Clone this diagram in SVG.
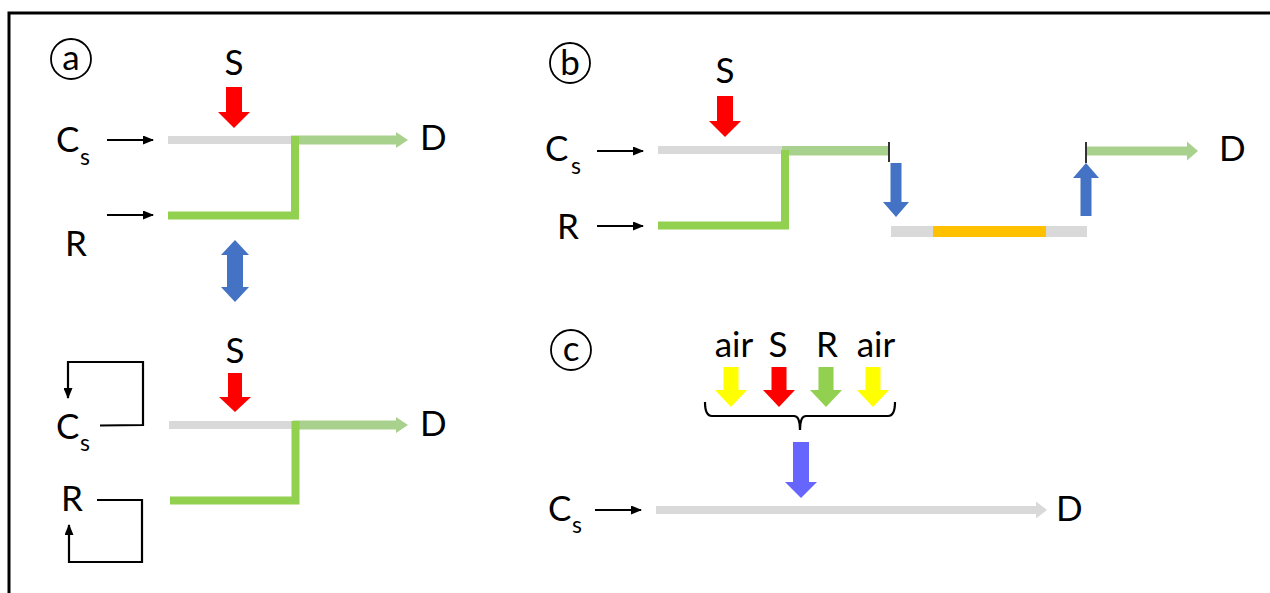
<svg xmlns="http://www.w3.org/2000/svg" width="1270" height="593" viewBox="0 0 1270 593">
<style>
.t{font-family:Lato,"Open Sans","Liberation Sans",sans-serif;font-size:35px;fill:#000}
.sub{font-size:23px}
.lbl{font-size:35px}
.circ{fill:none;stroke:#000;stroke-width:1.8}
.thin{fill:none;stroke:#000;stroke-width:2;marker-end:url(#ah)}
.loop{fill:none;stroke:#000;stroke-width:2.2;marker-end:url(#ah)}
.tick{stroke:#333;stroke-width:2}
.gray{fill:#D9D9D9}
.lg{fill:#A9D18E}
.dg{fill:none;stroke:#92D050;stroke-width:8}
.red{fill:#FF0000}
.blue{fill:#4472C4}
.yel{fill:#FFFF00}
.grn{fill:#92D050}
.pur{fill:#6666FF}
.org{fill:#FFC000}
</style>
<defs>
<marker id="ah" markerUnits="userSpaceOnUse" markerWidth="11" markerHeight="9" refX="10" refY="4.5" orient="auto">
<path d="M0,0 L11,4.5 L0,9 Z" fill="#000"/>
</marker>
</defs>
<rect width="1270" height="593" fill="#fff"/>
<path d="M9,593 V13 H1270" fill="none" stroke="#000" stroke-width="3"/>

<!-- Panel a top -->
<g id="a-label"><circle class="circ" cx="71" cy="59" r="20"/><text class="t lbl" x="71" y="70" text-anchor="middle">a</text></g>
<g id="a1-S"><text class="t" x="234" y="75" text-anchor="middle">S</text><path class="red" d="M226,87 H242 V112 H250 L234,128 L218,112 H226 Z"/></g>
<g id="a1-Cs"><text class="t" x="56" y="152">C</text><text class="t sub" x="80" y="165">s</text></g>
<g id="a1-R"><text class="t" x="65" y="256">R</text></g>
<g id="a1-D"><text class="t" x="420" y="150">D</text></g>
<g id="a1-column">
<rect class="gray" x="168" y="136" width="123" height="8"/>
<path class="lg" d="M291,135.5 H396 V132 L408,140 L396,148 V144.5 H291 Z"/>
<path class="dg" d="M168,215.5 H295 V136"/>
</g>
<g id="a-swap"><path class="blue" d="M235,240 L249,255 H243 V287 H249 L235,302 L221,287 H227 V255 H221 Z"/></g>

<!-- Panel a bottom -->
<g id="a2-S"><text class="t" x="235" y="363" text-anchor="middle">S</text><path class="red" d="M228,373 H242 V397 H251 L235,412 L219,397 H228 Z"/></g>
<g id="a2-Cs"><text class="t" x="56" y="439">C</text><text class="t sub" x="80" y="451">s</text></g>
<g id="a2-R"><text class="t" x="61" y="511">R</text></g>
<g id="a2-D"><text class="t" x="420" y="436">D</text></g>
<g id="a2-column">
<rect class="gray" x="169" y="421" width="124" height="8"/>
<path class="lg" d="M293,420.5 H396 V417 L408,425 L396,433 V429.5 H293 Z"/>
<path class="dg" d="M170,500.5 H295.5 V421"/>
</g>

<!-- Panel b -->
<g id="b-label"><circle class="circ" cx="570" cy="63" r="20"/><text class="t lbl" x="570" y="75" text-anchor="middle">b</text></g>
<g id="b-S"><text class="t" x="725" y="83" text-anchor="middle">S</text><path class="red" d="M717,96 H733 V121 H741 L725,137 L709,121 H717 Z"/></g>
<g id="b-Cs"><text class="t" x="545" y="161">C</text><text class="t sub" x="571" y="174">s</text></g>
<g id="b-R"><text class="t" x="557" y="239">R</text></g>
<g id="b-D"><text class="t" x="1219" y="161">D</text></g>
<g id="b-column1">
<rect class="gray" x="658" y="146" width="124" height="8"/>
<rect class="lg" x="782" y="146" width="106" height="9.5"/>
<path class="dg" d="M658,225.5 H785 V150"/>
</g>
<g id="b-column2">
<rect class="gray" x="891" y="226" width="196" height="11"/>
<rect class="org" x="933" y="226" width="113" height="11"/>
</g>
<g id="b-out"><path class="lg" d="M1086,146.5 H1187 V141.5 L1198,151 L1187,160.5 V155.5 H1086 Z"/></g>

<!-- Panel c -->
<g id="c-label"><circle class="circ" cx="571" cy="350" r="20"/><text class="t lbl" x="571" y="361" text-anchor="middle">c</text></g>
<g id="c-air1"><text class="t" x="734" y="357" text-anchor="middle">air</text><path class="yel" d="M723.5,367 H738.5 V390 H747 L731,407 L715,390 H723.5 Z"/></g>
<g id="c-S"><text class="t" x="778" y="357" text-anchor="middle">S</text><path class="red" d="M771.5,367 H786.5 V390 H795 L779,407 L763,390 H771.5 Z"/></g>
<g id="c-R"><text class="t" x="827" y="357" text-anchor="middle">R</text><path class="grn" d="M818.5,367 H833.5 V390 H842 L826,407 L810,390 H818.5 Z"/></g>
<g id="c-air2"><text class="t" x="876" y="357" text-anchor="middle">air</text><path class="yel" d="M865.5,367 H880.5 V390 H889 L873,407 L857,390 H865.5 Z"/></g>
<g id="c-brace"><path d="M705,402 Q705,416 712,416 H794 Q800,416 800,430 Q800,416 806,416 H888 Q895,416 895,402" fill="none" stroke="#000" stroke-width="2.2"/></g>
<g id="c-mix"><path class="pur" d="M793,442 H809 V482 H817 L801,498 L785,482 H793 Z"/></g>
<g id="c-Cs"><text class="t" x="548" y="521">C</text><text class="t sub" x="572" y="533">s</text></g>
<g id="c-D"><text class="t" x="1056" y="521">D</text></g>
<g id="c-column"><path class="gray" d="M656,506 H1036 V501.5 L1047,510 L1036,518.5 V514 H656 Z"/></g>

<!-- Connectors -->
<g id="connectors">
<line class="thin" x1="107" y1="140" x2="153" y2="140"/>
<line class="thin" x1="107" y1="215" x2="153" y2="215"/>
<polyline class="loop" points="100,425.5 143,425 143,362 68,362 68,398"/>
<polyline class="loop" points="97,500 142,500 142,562 69,562 69,525"/>
<line class="thin" x1="597" y1="151" x2="643" y2="151"/>
<line class="thin" x1="597" y1="226" x2="643" y2="226"/>
<line class="tick" x1="889" y1="142" x2="889" y2="162"/>
<path class="blue" d="M890.5,163 H901.5 V202 H909 L896,217 L883,202 H890.5 Z"/>
<path class="blue" d="M1086,163 L1099,178 H1091.5 V216 H1080.5 V178 H1073 Z"/>
<line class="tick" x1="1086" y1="142" x2="1086" y2="163"/>
<line class="thin" x1="595" y1="510" x2="641" y2="510"/>
</g>
</svg>
